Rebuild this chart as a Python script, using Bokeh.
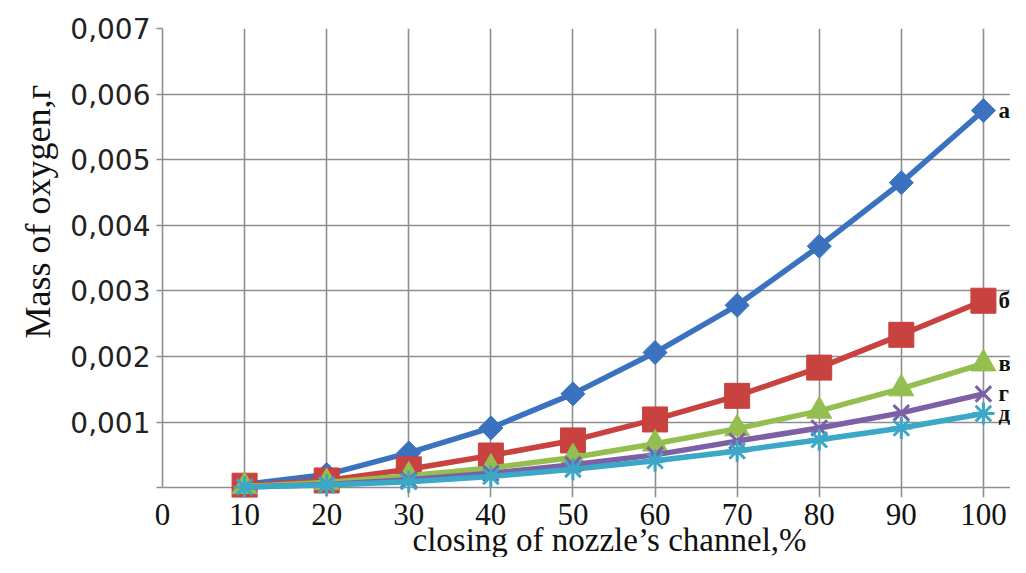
from math import pi
from bokeh.plotting import figure
from bokeh.models import (Range1d, FixedTicker, CustomJSTickFormatter, Title,
                          LabelSet, ColumnDataSource)
from bokeh.core.properties import value
from bokeh.embed import file_html
from bokeh.resources import INLINE

# ---- data ----
closing = [10, 20, 30, 40, 50, 60, 70, 80, 90, 100]
series_a = [0.00005, 0.00020, 0.00053, 0.00091, 0.00143, 0.00206, 0.00278, 0.00368, 0.00465, 0.00575]
series_b = [0.00003, 0.00011, 0.00028, 0.00049, 0.00072, 0.00104, 0.00140, 0.00183, 0.00233, 0.00285]
series_v = [0.00002, 0.00008, 0.00018, 0.00030, 0.00046, 0.00067, 0.00090, 0.00117, 0.00151, 0.00189]
series_g = [0.00001, 0.00005, 0.00012, 0.00022, 0.00035, 0.00050, 0.00071, 0.00091, 0.00114, 0.00143]
series_d = [0.00001, 0.00004, 0.00009, 0.00017, 0.00028, 0.00041, 0.00056, 0.00073, 0.00091, 0.00113]
series_names = ["а", "б", "в", "г", "д"]
x_ticks = [0, 10, 20, 30, 40, 50, 60, 70, 80, 90, 100]
y_ticks = [0, 0.001, 0.002, 0.003, 0.004, 0.005, 0.006, 0.007]
x_title = "closing of nozzle\u2019s channel,%"
y_title = "Mass of oxygen,г"

colors = ["#3A72C0", "#C8423F", "#94BE4F", "#7D5FA6", "#3AA8C6"]
markers = ["square", "square", "triangle", "x", "asterisk"]
angles = [pi / 4, 0, 0, 0, 0]
sizes = [17, 25, 25, 22, 22]

X_MAX, Y_MAX = 100, 0.007
p = figure(width=1010, height=557, output_backend="svg", toolbar_location=None,
           x_range=Range1d(0, 103.3), y_range=Range1d(-0.00015, Y_MAX),
           min_border_left=162, min_border_right=0, min_border_top=28,
           min_border_bottom=60)
p.outline_line_color = None
p.background_fill_color = "white"

grid_color = "#8e8e8e"
p.xgrid.ticker = FixedTicker(ticks=x_ticks)
p.ygrid.ticker = FixedTicker(ticks=y_ticks)
p.xgrid.bounds = (0, Y_MAX)
p.ygrid.bounds = (0, X_MAX)
p.xgrid.grid_line_color = grid_color
p.ygrid.grid_line_color = grid_color
p.xgrid.grid_line_width = 1.6
p.ygrid.grid_line_width = 1.6

# x axis (tick labels)
p.xaxis.ticker = FixedTicker(ticks=x_ticks)
p.xaxis.axis_line_color = None
p.xaxis.major_tick_line_color = None
p.xaxis.minor_tick_line_color = None
p.xaxis.major_tick_out = 0
p.xaxis.major_label_text_font = "Liberation Serif"
p.xaxis.major_label_text_font_size = "31px"
p.xaxis.major_label_text_color = "#111111"
p.xaxis.major_label_standoff = 6

# y axis (tick labels)
p.yaxis.ticker = FixedTicker(ticks=y_ticks)
p.yaxis.bounds = (0, Y_MAX)
p.yaxis.formatter = CustomJSTickFormatter(
    code='return tick < 1e-9 ? "" : tick.toFixed(3).replace(".", ",");')
p.yaxis.axis_line_color = grid_color
p.yaxis.axis_line_width = 1.6
p.yaxis.major_tick_line_color = grid_color
p.yaxis.major_tick_line_width = 1.6
p.yaxis.major_tick_out = 6
p.yaxis.major_tick_in = 0
p.yaxis.minor_tick_line_color = None
p.yaxis.major_label_text_font = "DejaVu Sans"
p.yaxis.major_label_text_font_size = "28px"
p.yaxis.major_label_text_color = "#222222"
p.yaxis.major_label_standoff = 6

# axis titles as side titles (offset shifts them along the frame)
p.add_layout(Title(text=x_title, align="left", offset=250, standoff=-15,
                   text_font="Liberation Serif", text_font_size="33px",
                   text_font_style="normal", text_color="#111111"), "below")
p.add_layout(Title(text=y_title, align="left", offset=159, standoff=20,
                   text_font="Liberation Serif", text_font_size="36px",
                   text_font_style="normal", text_color="#111111"), "left")

all_series = [series_a, series_b, series_v, series_g, series_d]
for ys, c, m, s, a in zip(all_series, colors, markers, sizes, angles):
    src = ColumnDataSource(dict(x=closing, y=ys))
    p.line("x", "y", source=src, line_color=c, line_width=5.5)
    p.scatter("x", "y", source=src, marker=m, size=s, angle=a, fill_color=c,
              line_color=c, line_width=3 if m in ("x", "asterisk") else 1)

# series end labels
lab_src = ColumnDataSource(dict(x=[closing[-1]] * len(series_names),
                                y=[s[-1] for s in all_series],
                                t=series_names))
p.add_layout(LabelSet(x="x", y="y", text="t", source=lab_src, x_offset=15,
                      text_baseline="middle", text_align="left",
                      text_font=value("Liberation Serif"), text_font_size="23px",
                      text_font_style="bold", text_color="#111111"))

open("out.html", "w").write(file_html(p, INLINE))
